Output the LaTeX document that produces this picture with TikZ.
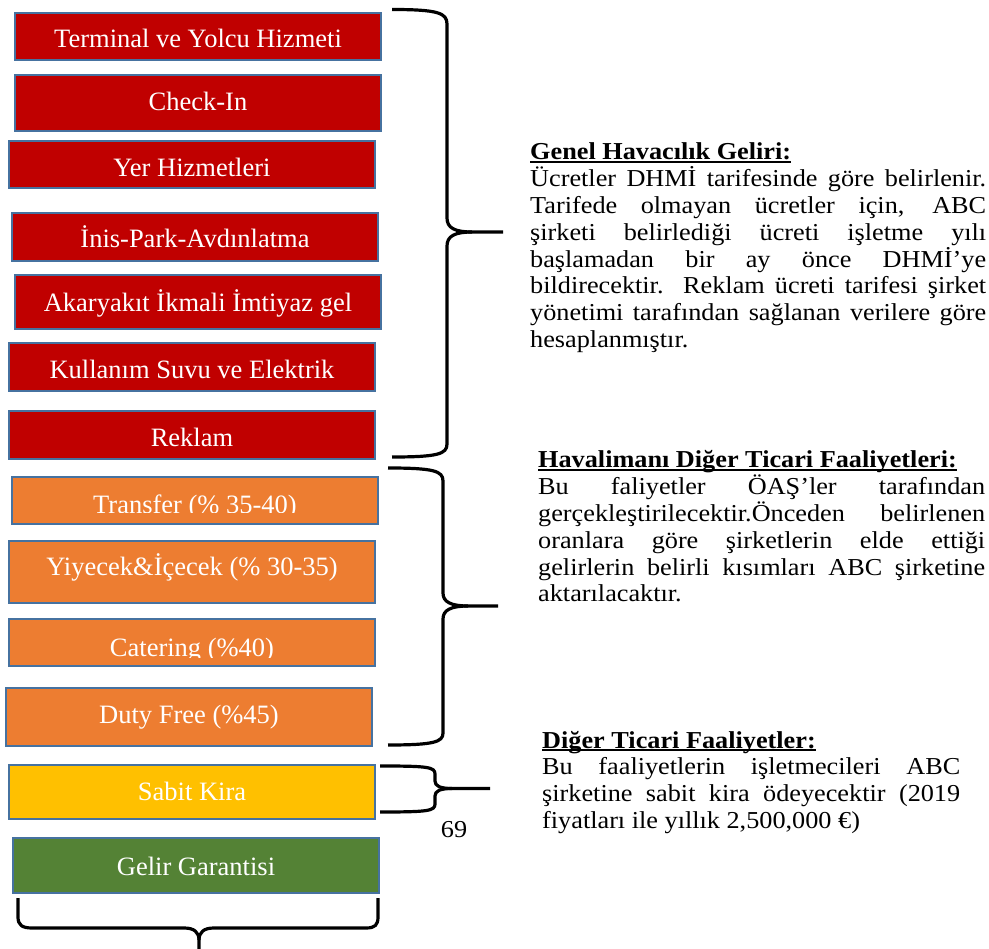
\documentclass[tikz,border=0pt]{standalone}
\usepackage{fontspec}
\setmainfont{Liberation Serif}
\newfontfamily\notefont{Liberation Serif}[FakeStretch=1.08]

\definecolor{tilered}{RGB}{192,0,0}
\definecolor{tileorange}{RGB}{237,125,49}
\definecolor{tileyellow}{RGB}{255,192,0}
\definecolor{tilegreen}{RGB}{84,130,53}
\definecolor{tileedge}{RGB}{70,114,160}

\tikzset{
  tile/.style={draw=tileedge, line width=2pt, inner sep=0pt, outer sep=0pt},
  tiletext/.style={text=white, font=\fontsize{26.5}{30}\selectfont, inner sep=0pt},
  brace/.style={line width=3.2pt, line cap=butt, line join=round},
  note/.style={inner sep=0pt, anchor=base west,
    font=\notefont\fontsize{24.3}{26.8}\selectfont},
}

% coloured tile: name, fill, x1, y1, x2, y2, text baseline, text
\newcommand\drawtile[8]{%
  \node[tile, fill=#2, minimum width={(#5-#3)*1pt}, minimum height={(#6-#4)*1pt}]
    (#1) at ({(#3+#5)/2},{(#4+#6)/2}) {};
  \node[tiletext, anchor=base] (#1-text) at ({(#3+#5)/2},#7) {#8};
}
% tile whose label is cut off at a given height: ... , clip line, text
\newcommand\drawcuttile[9]{%
  \node[tile, fill=#2, minimum width={(#5-#3)*1pt}, minimum height={(#6-#4)*1pt}]
    (#1) at ({(#3+#5)/2},{(#4+#6)/2}) {};
  \begin{scope}
    \clip (#3,#4) rectangle (#5,#8);
    \node[tiletext, anchor=base] (#1-text) at ({(#3+#5)/2},#7) {#9};
  \end{scope}
}

% justified line, bold underlined heading
\newcommand\fillline[1]{\hbox to \hsize{#1}}
\newcommand\headline[1]{\hbox{\setbox0\hbox{\bfseries #1}%
  \rlap{\rule[-3.3pt]{\wd0}{2.2pt}}\box0}}

\begin{document}
\begin{tikzpicture}[x=1pt, y=-1pt]
\useasboundingbox (0,0) rectangle (989,949);

% revenue items
\drawtile{terminal}{tilered}{15}{13}{381}{60}{48}{Terminal ve Yolcu Hizmeti}
\drawtile{checkin}{tilered}{15}{75}{381}{131}{111}{Check-In}
\drawtile{yer}{tilered}{9}{141}{375}{188}{177}{Yer Hizmetleri}
\drawtile{inis}{tilered}{12}{213}{378}{261}{248}{İnis-Park-Avdınlatma}
\drawtile{akaryakit}{tilered}{15}{275}{381}{329}{312}{Akaryakıt İkmali İmtiyaz gel}
\drawtile{kullanim}{tilered}{9}{343}{375}{391}{379}{Kullanım Suvu ve Elektrik}
\drawtile{reklam}{tilered}{9}{411}{375}{459}{447}{Reklam}
\drawcuttile{transfer}{tileorange}{12}{477}{378}{524}{514}{513}{Transfer (\% 35-40)}
\drawtile{yiyecek}{tileorange}{9}{541}{375}{603}{576}{Yiyecek\&İçecek (\% 30-35)}
\drawcuttile{catering}{tileorange}{9}{619}{375}{666}{656}{657}{Catering (\%40)}
\drawtile{dutyfree}{tileorange}{6}{688}{372}{746}{723}{Duty Free (\%45)}
\drawtile{sabit}{tileyellow}{9}{765}{375}{819}{800}{Sabit Kira}
\drawtile{gelir}{tilegreen}{13}{838}{379}{893}{875}{Gelir Garantisi}

% brace: aviation revenue
\draw[brace] (392,9.5) .. controls (438,9.5) and (447,13) .. (447,24) -- (447,218)
  .. controls (447,228) and (455,232) .. (472,232) -- (503,232);
\draw[brace] (472,232) .. controls (455,232) and (447,236) .. (447,246) -- (447,444)
  .. controls (447,454) and (438,457) .. (392,457);

% brace: other commercial activities of the airport
\draw[brace] (388,468) .. controls (434,468) and (443,471) .. (443,481) -- (443,593)
  .. controls (443,602) and (451,606) .. (468,606) -- (498,606);
\draw[brace] (468,606) .. controls (451,606) and (443,610) .. (443,619) -- (443,733)
  .. controls (443,742) and (434,745) .. (388,745);

% brace: fixed rent
\draw[brace] (380,766) .. controls (428,766) and (435,767) .. (435,774) -- (435,781)
  .. controls (435,786) and (440,788.5) .. (452,788.5) -- (490,788.5);
\draw[brace] (452,788.5) .. controls (440,788.5) and (435,791) .. (435,796) -- (435,804)
  .. controls (435,811) and (428,812) .. (380,812);

% brace under the revenue guarantee
\draw[brace] (18,898) -- (18,917) .. controls (18,925) and (22,928) .. (32,928) -- (184,928)
  .. controls (194,928) and (199,932) .. (199,940) -- (199,955);
\draw[brace] (199,940) .. controls (199,932) and (204,928) .. (214,928) -- (366,928)
  .. controls (375,928) and (378,925) .. (378,917) -- (378,898);

% page number
\node[note, anchor=base] (pageno) at (454,837) {69};

% explanations
\node[note] (genel) at (530,160) {\parbox[t]{456pt}{%
  \headline{Genel Havacılık Geliri:}
  \fillline{Ücretler DHMİ tarifesinde göre belirlenir.}
  \fillline{Tarifede olmayan ücretler için, ABC}
  \fillline{şirketi belirlediği ücreti işletme yılı}
  \fillline{başlamadan bir ay önce DHMİ’ye}
  \fillline{bildirecektir. Reklam ücreti tarifesi şirket}
  \fillline{yönetimi tarafından sağlanan verilere göre}
  \hbox{hesaplanmıştır.}}};

\node[note] (havalimani) at (538,468) {\parbox[t]{447pt}{%
  \headline{Havalimanı Diğer Ticari Faaliyetleri:}
  \fillline{Bu faliyetler ÖAŞ’ler tarafından}
  \fillline{gerçekleştirilecektir.Önceden belirlenen}
  \fillline{oranlara göre şirketlerin elde ettiği}
  \fillline{gelirlerin belirli kısımları ABC şirketine}
  \hbox{aktarılacaktır.}}};

\node[note] (diger) at (542,748) {\parbox[t]{418pt}{%
  \headline{Diğer Ticari Faaliyetler:}
  \fillline{Bu faaliyetlerin işletmecileri ABC}
  \fillline{şirketine sabit kira ödeyecektir (2019}
  \hbox{fiyatları ile yıllık 2,500,000 €)}}};
\end{tikzpicture}
\end{document}
